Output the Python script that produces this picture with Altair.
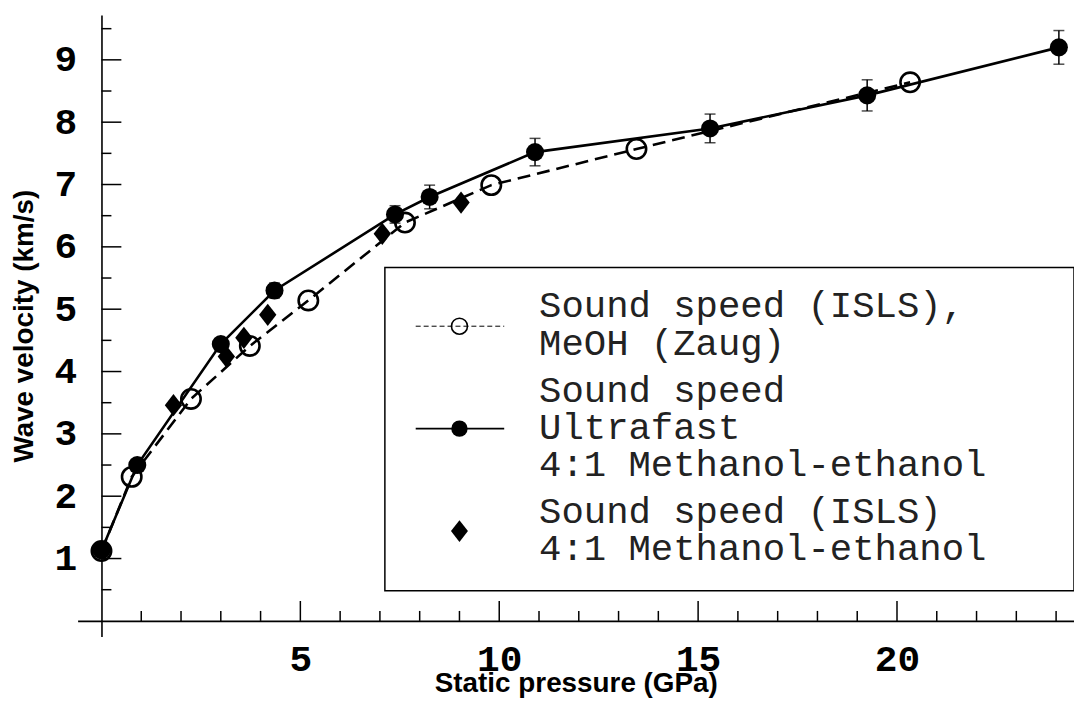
import altair as alt
import pandas as pd

# ---- data ----
ultra_p = [0.0, 0.9, 3.0, 4.35, 7.38, 8.25, 10.9, 15.3, 19.25, 24.07]
ultra_v = [1.13, 2.50, 4.44, 5.30, 6.52, 6.80, 7.52, 7.90, 8.43, 9.20]
ultra_err = [0.05, 0.06, 0.08, 0.12, 0.14, 0.19, 0.22, 0.23, 0.25, 0.27]

zaug_p = [0.0, 0.76, 2.25, 3.73, 5.2, 7.63, 9.8, 13.45, 20.33]
zaug_v = [1.12, 2.31, 3.56, 4.41, 5.14, 6.39, 6.99, 7.57, 8.64]

isls_p = [1.81, 3.14, 3.58, 4.18, 7.06, 9.04]
isls_v = [3.46, 4.24, 4.54, 4.91, 6.21, 6.71]

x_major = [5, 10, 15, 20]
x_minor = [1, 2, 3, 4, 6, 7, 8, 9, 11, 12, 13, 14, 16, 17, 18, 19, 21, 22, 23, 24]
y_major = [1, 2, 3, 4, 5, 6, 7, 8, 9]
y_minor = [0.5, 1.5, 2.5, 3.5, 4.5, 5.5, 6.5, 7.5, 8.5, 9.5]

legend_labels = [
    "Sound speed (ISLS),\nMeOH (Zaug)",
    "Sound speed\nUltrafast\n4:1 Methanol-ethanol",
    "Sound speed (ISLS)\n4:1 Methanol-ethanol",
]

# ---- tables ----
ultra = pd.DataFrame({"p": ultra_p, "v": ultra_v, "err": ultra_err})
ultra["lo"] = ultra["v"] - ultra["err"]
ultra["hi"] = ultra["v"] + ultra["err"]
zaug = pd.DataFrame({"p": zaug_p, "v": zaug_v})
isls = pd.DataFrame({"p": isls_p, "v": isls_v})
one = pd.DataFrame({"k": [0]})

W, H = 1002, 625
xs = alt.Scale(domain=[-0.6, 24.45], nice=False, zero=False)
ys = alt.Scale(domain=[-0.25, 9.72], nice=False, zero=False)

xaxis = alt.Axis(values=x_major, format="d", offset=-15.7, ticks=False, grid=False,
                 domainColor="black", domainWidth=1.6,
                 labelFont="Liberation Mono", labelFontWeight="bold", labelFontSize=38,
                 labelColor="black", labelPadding=20,
                 title="Static pressure (GPa)", titleFont="Liberation Sans",
                 titleFontSize=28, titleFontWeight="bold", titleColor="black",
                 titleBaseline="alphabetic", titleY=71)
yaxis = alt.Axis(values=y_major, format="d", offset=-24, ticks=False, grid=False,
                 domainColor="black", domainWidth=1.6,
                 labelFont="Liberation Mono", labelFontWeight="bold", labelFontSize=38,
                 labelColor="black", labelPadding=25,
                 title="Wave velocity (km/s)", titleFont="Liberation Sans",
                 titleFontSize=28, titleFontWeight="bold", titleColor="black",
                 titleBaseline="alphabetic", titleX=-69)


def X(f):
    return alt.X(f"{f}:Q", scale=xs, axis=xaxis)


def Y(f):
    return alt.Y(f"{f}:Q", scale=ys, axis=yaxis)


BLACK = "black"
diamond = "M0,-1L0.78,0L0,1L-0.78,0Z"

zaug_line = alt.Chart(zaug).mark_line(color=BLACK, strokeWidth=2.6, strokeDash=[13, 7]).encode(x=X("p"), y=Y("v"))
zaug_pts = alt.Chart(zaug).mark_point(shape="circle", filled=False, color=BLACK, size=380,
                                      strokeWidth=2.6, opacity=1).encode(x=X("p"), y=Y("v"))
ultra_line = alt.Chart(ultra).mark_line(color=BLACK, strokeWidth=2.6).encode(x=X("p"), y=Y("v"))
err_rule = alt.Chart(ultra).mark_rule(color=BLACK, strokeWidth=1.5).encode(
    x=X("p"), y=Y("lo"), y2=alt.Y2("hi"))
cap_lo = alt.Chart(ultra).mark_tick(color=BLACK, orient="horizontal", size=11, thickness=1.5).encode(
    x=X("p"), y=Y("lo"))
cap_hi = alt.Chart(ultra).mark_tick(color=BLACK, orient="horizontal", size=11, thickness=1.5).encode(
    x=X("p"), y=Y("hi"))
ultra_pts = alt.Chart(ultra).mark_circle(color=BLACK, size=330, opacity=1).encode(x=X("p"), y=Y("v"))
isls_pts = alt.Chart(isls).mark_point(shape=diamond, filled=True, color=BLACK, size=500,
                                      opacity=1).encode(x=X("p"), y=Y("v"))

# axis ticks pointing inward
xt_major = alt.Chart(pd.DataFrame({"t": x_major})).mark_rule(color=BLACK, strokeWidth=1.5, y2Offset=-20).encode(
    x=X("t"), y=alt.datum(0), y2=alt.datum(0))
xt_minor = alt.Chart(pd.DataFrame({"t": x_minor})).mark_rule(color=BLACK, strokeWidth=1.5, y2Offset=-10).encode(
    x=X("t"), y=alt.datum(0), y2=alt.datum(0))
yt_major = alt.Chart(pd.DataFrame({"t": y_major})).mark_rule(color=BLACK, strokeWidth=1.5, x2Offset=20).encode(
    y=Y("t"), x=alt.datum(0), x2=alt.datum(0))
yt_minor = alt.Chart(pd.DataFrame({"t": y_minor})).mark_rule(color=BLACK, strokeWidth=1.5, x2Offset=10).encode(
    y=Y("t"), x=alt.datum(0), x2=alt.datum(0))

# ---- legend (drawn by hand) ----
leg_box = alt.Chart(one).mark_rect(fill="white", stroke=BLACK, strokeWidth=1.5).encode(
    x=alt.value(309), x2=alt.value(W), y=alt.value(254), y2=alt.value(579))
leg_l1 = alt.Chart(one).mark_rule(color=BLACK, strokeWidth=1, strokeDash=[5, 3]).encode(
    x=alt.value(340), x2=alt.value(429), y=alt.value(313))
leg_s1 = alt.Chart(one).mark_point(shape="circle", filled=False, color=BLACK, size=260,
                                   strokeWidth=1.6, opacity=1).encode(x=alt.value(384), y=alt.value(313))
leg_l2 = alt.Chart(one).mark_rule(color=BLACK, strokeWidth=1.6).encode(
    x=alt.value(340), x2=alt.value(429), y=alt.value(416))
leg_s2 = alt.Chart(one).mark_circle(color=BLACK, size=270, opacity=1).encode(x=alt.value(384), y=alt.value(416))
leg_s3 = alt.Chart(one).mark_point(shape=diamond, filled=True, color=BLACK, size=480,
                                   opacity=1).encode(x=alt.value(384), y=alt.value(519))

leg_texts = []
for lab, yb in zip(legend_labels, [304, 389, 511]):
    leg_texts.append(
        alt.Chart(one).mark_text(text=lab, lineBreak="\n", lineHeight=37.5, font="Liberation Mono",
                                 fontSize=37.5, color="#222222", align="left", baseline="alphabetic").encode(
            x=alt.value(464), y=alt.value(yb)))

chart = alt.layer(
    zaug_line, ultra_line, err_rule, cap_lo, cap_hi, zaug_pts, isls_pts, ultra_pts,
    xt_major, xt_minor, yt_major, yt_minor,
    leg_box, leg_l1, leg_s1, leg_l2, leg_s2, leg_s3, *leg_texts,
).properties(
    width=W, height=H,
    autosize=alt.AutoSizeParams(type="none"),
    padding={"left": 70, "top": 5, "right": 0, "bottom": 80},
    background="white",
).configure_view(stroke=None)

chart.save("out.html", embed_options={"renderer": "svg", "actions": False})
